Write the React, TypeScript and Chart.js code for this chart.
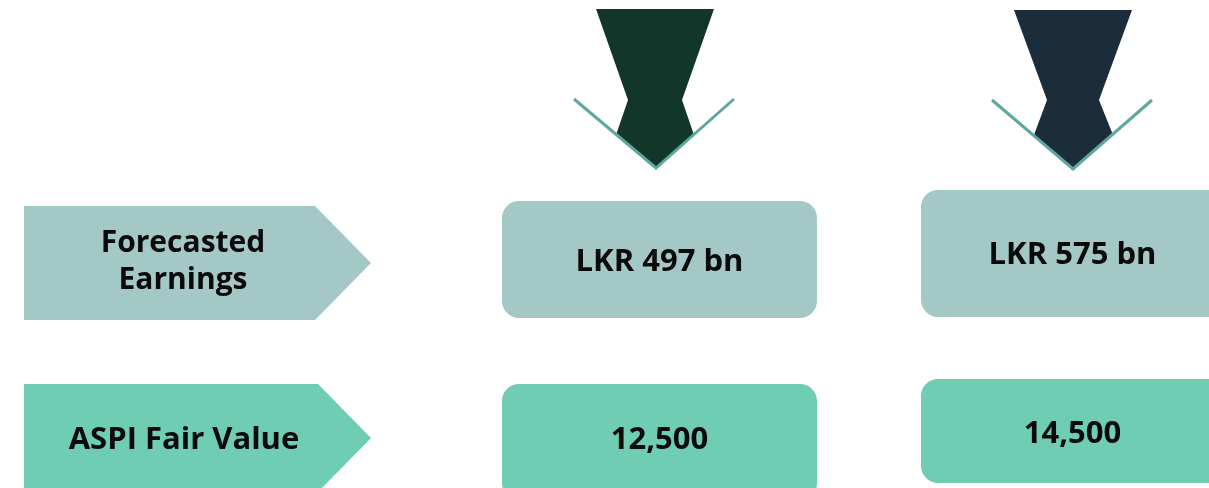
import React, { useEffect, useRef } from "react";
import { Chart, registerables } from "chart.js";

Chart.register(...registerables);

// ---------- data ----------
const rowLabels: string[][] = [["Forecasted", "Earnings"], ["ASPI Fair Value"]];
const forecastedEarningsBn: number[] = [497, 575];
const aspiFairValue: number[] = [12500, 14500];

const earningsText = (v: number) => `LKR ${v} bn`;
const fairValueText = (v: number) => v.toLocaleString("en-US");

// ---------- layout (in scale units = pixels of the 1209x488 frame) ----------
const W = 1209;
const H = 488;

const labelShapes = [
  { x0: 24, x1: 315, tip: 371, y0: 206, y1: 320, tx: 183, baselines: [252, 289], font: 30 },
  { x0: 24, x1: 318, tip: 371, y0: 384, y1: 492, tx: 184, baselines: [449], font: 31 },
];

const columns = [
  {
    arrow: [[596, 9], [714, 9], [682, 100], [694, 135], [656, 168], [616, 135], [628, 100]],
    vee: [[574, 99], [656, 168], [734, 99]],
    box1: { x0: 502, x1: 817, y0: 201, y1: 318 },
    box2: { x0: 502, x1: 817, y0: 384, y1: 500 },
    tx: 659.5,
    base1: 271,
    base2: 449,
  },
  {
    arrow: [[1014, 10], [1132, 10], [1099, 100], [1113, 135], [1073, 169], [1034, 135], [1047, 100]],
    vee: [[992, 100], [1073, 169], [1152, 100]],
    box1: { x0: 921, x1: 1236, y0: 190, y1: 317 },
    box2: { x0: 921, x1: 1236, y0: 379, y1: 483 },
    tx: 1072.5,
    base1: 264,
    base2: 443,
  },
];

// ---------- styles ----------
const STYLE = {
  light: "#a3c8c5",
  green: "#6fcdb3",
  arrows: ["#12372a", "#1b2c3b"],
  vee: "#5ea79f",
  text: "#0a0a0a",
  family: '"Open Sans", "Noto Sans", sans-serif',
  radius: 17,
};

const infographicPlugin = {
  id: "infographic",
  afterDraw(chart: any) {
    const ctx: CanvasRenderingContext2D = chart.ctx;
    const xs = chart.scales.x;
    const ys = chart.scales.y;
    const px = (v: number) => xs.getPixelForValue(v);
    const py = (v: number) => ys.getPixelForValue(v);

    ctx.save();

    // row label pentagons
    labelShapes.forEach((s, i) => {
      ctx.beginPath();
      ctx.moveTo(px(s.x0), py(s.y0));
      ctx.lineTo(px(s.x1), py(s.y0));
      ctx.lineTo(px(s.tip), py((s.y0 + s.y1) / 2));
      ctx.lineTo(px(s.x1), py(s.y1));
      ctx.lineTo(px(s.x0), py(s.y1));
      ctx.closePath();
      ctx.fillStyle = i === 0 ? STYLE.light : STYLE.green;
      ctx.fill();

      ctx.fillStyle = STYLE.text;
      ctx.font = `700 ${s.font}px ${STYLE.family}`;
      ctx.textAlign = "center";
      ctx.textBaseline = "alphabetic";
      rowLabels[i].forEach((line, j) => {
        ctx.fillText(line, px(s.tx), py(s.baselines[j]));
      });
    });

    const roundBox = (b: { x0: number; x1: number; y0: number; y1: number }, color: string) => {
      ctx.beginPath();
      const x = px(b.x0);
      const y = py(b.y0);
      ctx.roundRect(x, y, px(b.x1) - x, py(b.y1) - y, STYLE.radius);
      ctx.fillStyle = color;
      ctx.fill();
    };

    columns.forEach((c, i) => {
      // arrow
      ctx.beginPath();
      c.arrow.forEach(([ax, ay], k) => {
        if (k === 0) ctx.moveTo(px(ax), py(ay));
        else ctx.lineTo(px(ax), py(ay));
      });
      ctx.closePath();
      ctx.fillStyle = STYLE.arrows[i];
      ctx.fill();

      // vee line
      ctx.beginPath();
      c.vee.forEach(([vx, vy], k) => {
        if (k === 0) ctx.moveTo(px(vx), py(vy));
        else ctx.lineTo(px(vx), py(vy));
      });
      ctx.strokeStyle = STYLE.vee;
      ctx.lineWidth = 3;
      ctx.lineJoin = "miter";
      ctx.stroke();

      // boxes
      roundBox(c.box1, STYLE.light);
      roundBox(c.box2, STYLE.green);

      ctx.fillStyle = STYLE.text;
      ctx.font = `700 31px ${STYLE.family}`;
      ctx.textAlign = "center";
      ctx.textBaseline = "alphabetic";
      ctx.fillText(earningsText(forecastedEarningsBn[i]), px(c.tx), py(c.base1));
      ctx.fillText(fairValueText(aspiFairValue[i]), px(c.tx), py(c.base2));
    });

    ctx.restore();
  },
};

export default function App() {
  const canvasRef = useRef<HTMLCanvasElement | null>(null);

  useEffect(() => {
    document.body.style.margin = "0";
    const canvas = canvasRef.current;
    if (!canvas) return;
    const chart = new Chart(canvas, {
      type: "scatter",
      data: {
        datasets: [
          {
            label: "anchors",
            data: columns.map((c, i) => ({ x: c.tx, y: c.base1, v: forecastedEarningsBn[i] })) as any,
            pointRadius: 0,
            showLine: false,
          },
        ],
      },
      options: {
        animation: false,
        responsive: false,
        maintainAspectRatio: false,
        layout: { padding: 0 },
        events: [],
        plugins: {
          legend: { display: false },
          tooltip: { enabled: false },
          title: { display: false },
        },
        scales: {
          x: { type: "linear", min: 0, max: W, display: false },
          y: { type: "linear", min: 0, max: H, reverse: true, display: false },
        },
      },
      plugins: [infographicPlugin],
    });
    return () => chart.destroy();
  }, []);

  return (
    <div style={{ width: W, height: H, background: "#ffffff" }}>
      <canvas ref={canvasRef} width={W} height={H} style={{ display: "block" }} />
    </div>
  );
}
